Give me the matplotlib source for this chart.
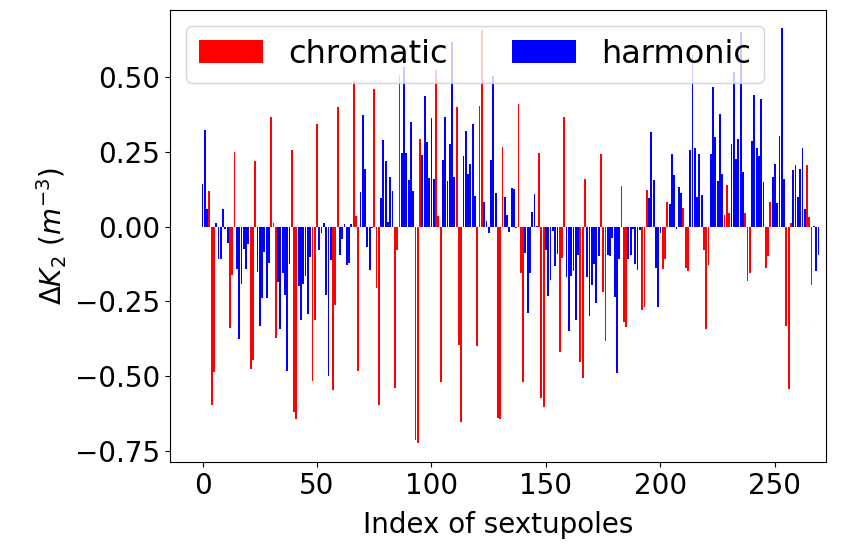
import numpy as np
import matplotlib
matplotlib.use("Agg")
import matplotlib.pyplot as plt
from matplotlib.ticker import MultipleLocator

# delta K2 for every sextupole (index 0..269)
dk2 = [
    0.143, 0.324, 0.059, 0.119, -0.597, -0.486, 0.012, -0.107, -0.107, 0.059,
    -0.009, -0.054, -0.338, -0.162, 0.25, -0.141, -0.376, -0.193, -0.074, -0.141,
    -0.057, -0.477, -0.446, 0.22, -0.151, -0.331, -0.24, -0.084, -0.237, -0.12,
    0.367, 0.012, -0.372, -0.184, -0.342, -0.156, -0.229, -0.482, -0.126, 0.257,
    -0.619, -0.643, -0.198, -0.311, -0.193, -0.164, -0.291, -0.1, -0.517, -0.312,
    0.344, -0.078, -0.02, 0.012, -0.229, -0.5, -0.112, -0.547, -0.262, 0.4,
    -0.095, -0.04, 0.009, -0.128, -0.12, 0.009, 0.487, 0.036, -0.482, 0.116,
    0.374, 0.193, -0.067, -0.144, -0.005, 0.461, -0.204, -0.597, 0.096, 0.29,
    0.22, 0.016, 0.166, 0.119, -0.539, -0.077, 0.508, 0.248, 0.536, 0.248,
    0.156, 0.35, 0.119, -0.712, -0.723, 0.295, 0.24, 0.4375, 0.283, 0.163,
    0.364, 0.16, 0.525, 0.036, -0.519, 0.223, 0.367, 0.153, 0.277, 0.619,
    0.166, 0.4, -0.394, -0.653, 0.237, 0.32, 0.176, 0.21, 0.344, 0.103,
    -0.398, 0.404, 0.658, 0.083, 0.019, -0.02, 0.223, 0.504, 0.113, -0.64,
    -0.643, 0.267, 0.099, 0.039, -0.017, 0.129, 0.126, -0.003, 0.41, -0.154,
    -0.519, -0.087, -0.288, -0.154, 0.049, 0.109, 0.003, 0.247, -0.573, -0.603,
    -0.077, -0.231, -0.177, -0.013, -0.131, -0.09, -0.419, -0.104, 0.367, -0.167,
    -0.348, -0.164, -0.147, -0.311, -0.094, -0.452, -0.506, 0.16, -0.167, -0.298,
    -0.194, -0.124, -0.254, -0.097, 0.243, -0.218, -0.382, -0.094, -0.097, -0.037,
    -0.234, -0.489, -0.107, 0.136, -0.318, -0.335, -0.107, -0.094, -0.008, -0.124,
    -0.144, -0.01, -0.278, -0.268, 0.123, 0.096, 0.317, 0.156, -0.137, -0.268,
    -0.02, -0.141, -0.107, 0.083, 0.076, 0.243, 0.173, -0.007, 0.133, 0.113,
    0.0625, -0.137, -0.147, 0.257, 0.575, 0.263, 0.099, 0.243, 0.106, -0.077,
    -0.342, -0.127, 0.243, 0.468, 0.3, 0.153, 0.377, 0.176, 0.039, 0.14,
    0.046, 0.277, 0.516, 0.227, 0.294, 0.65, 0.183, 0.046, -0.181, -0.154,
    0.287, 0.44, 0.263, 0.237, 0.427, 0.15, -0.137, -0.097, 0.083, 0.166,
    0.21, 0.079, 0.304, 0.665, 0.16, -0.331, -0.542, 0.012, 0.19, 0.206,
    0.099, 0.193, 0.263, 0.059, 0.206, 0.032, -0.194, 0.002, -0.147, -0.095,
]

# c = chromatic sextupole, h = harmonic sextupole (same order as dk2, 10 per chunk)
kinds = (
    "hhhccchhhh" "hhccchhhhh" "hccchhhhhh" "ccchhhhhhc" "cchhhhhhcc"
    "chhhhhhccc" "hhhhhhccch" "hhhhhccchh" "hhhhccchhh" "hhhccchhhh"
    "hhccchhhhh" "hccchhhhhh" "ccchhhhhhc" "cchhhhhhcc" "chhhhhhccc"
    "hhhhhhccch" "hhhhhccchh" "hhhhccchhh" "hhhccchhhh" "hhccchhhhh"
    "hccchhhhhh" "ccchhhhhhc" "cchhhhhhcc" "chhhhhhccc" "hhhhhhccch"
    "hhhhhccchh" "hhhhccchhh"
)

dk2 = np.array(dk2)
kinds = np.array(list(kinds))
idx = np.arange(len(dk2))

chrom = kinds == "c"
harm = kinds == "h"

fig = plt.figure(figsize=(8.44, 5.45), dpi=100)
ax = fig.add_subplot(111)
fig.subplots_adjust(left=170/844, right=826/844, top=1-10/545, bottom=1-462/545)

ax.bar(idx[chrom], dk2[chrom], width=0.8, color="red", label="chromatic")
ax.bar(idx[harm], dk2[harm], width=0.8, color="blue", label="harmonic")

ax.set_xlim(-14.2, 272.3)
ax.set_ylim(-0.787, 0.725)
ax.yaxis.set_major_locator(MultipleLocator(0.25))
ax.set_xlabel("Index of sextupoles", fontsize=20, labelpad=8)
ax.set_ylabel(r"$\Delta K_2\ (m^{-3})$", fontsize=20)
ax.tick_params(labelsize=20)
ax.legend(loc="upper left", ncol=2, fontsize=23)

fig.savefig("out.png", dpi=100)
